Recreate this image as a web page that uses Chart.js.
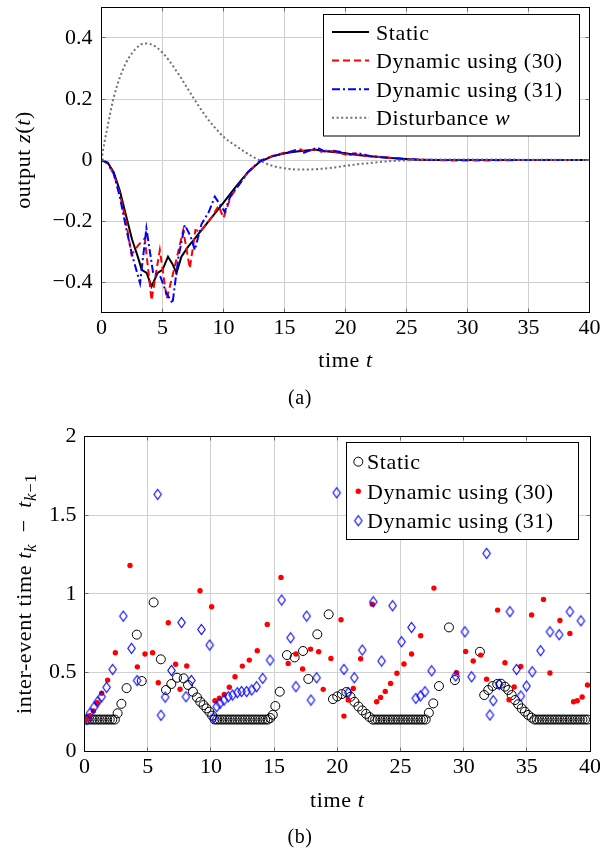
<!DOCTYPE html>
<html>
<head>
<meta charset="utf-8">
<title>Output z(t) and inter-event times</title>
<script src="https://cdn.jsdelivr.net/npm/chart.js@4.4.1/dist/chart.umd.min.js"></script>
<style>
  html, body { margin: 0; padding: 0; background: #fff; }
  canvas { display: block; }
</style>
</head>
<body>
<canvas id="outputCanvas" width="600" height="420"></canvas>
<canvas id="eventCanvas" width="600" height="433"></canvas>
<script>
// ---- (a) output z(t): each curve has its own time samples ----
const tStatic = [0, 0.5, 1, 1.5, 2, 2.5, 3, 3.3, 3.7, 4.1, 4.6, 5.0, 5.45, 5.8, 6.15, 6.55, 7.1, 7.5, 8.0, 8.5, 9.0, 10, 11, 12, 13, 14, 15, 16, 17, 17.5, 18, 19, 20, 21, 22, 23, 24, 25, 26, 28, 30, 35, 40];
const zStatic = [0, -0.008, -0.04, -0.1, -0.18, -0.26, -0.32, -0.36, -0.37, -0.415, -0.37, -0.36, -0.317, -0.34, -0.37, -0.317, -0.284, -0.265, -0.24, -0.215, -0.19, -0.14, -0.088, -0.04, -0.005, 0.012, 0.022, 0.028, 0.032, 0.034, 0.03, 0.026, 0.022, 0.016, 0.012, 0.009, 0.006, 0.003, 0.001, 0, 0, 0, 0];

const tDyn30 = [0, 0.5, 1, 1.5, 2, 2.46, 3.0, 3.55, 4.1, 4.78, 5.35, 6.0, 6.7, 7.24, 7.7, 8.1, 9.0, 9.6, 10.0, 10.6, 11.2, 12, 13, 14, 15, 15.6, 16.2, 16.7, 17.4, 18.0, 18.6, 19.3, 20.0, 20.6, 21.3, 22, 23, 24, 25, 26, 28, 30, 35, 40];
const zDyn30 = [0, -0.01, -0.045, -0.11, -0.2, -0.31, -0.28, -0.257, -0.46, -0.295, -0.455, -0.35, -0.23, -0.355, -0.23, -0.235, -0.19, -0.15, -0.19, -0.12, -0.085, -0.04, -0.003, 0.013, 0.024, 0.028, 0.037, 0.026, 0.035, 0.027, 0.032, 0.025, 0.018, 0.022, 0.015, 0.012, 0.01, 0.006, 0.002, 0.001, -0.001, -0.002, 0, 0];

const tDyn31 = [0, 0.5, 1, 1.5, 2, 2.5, 3.16, 3.68, 4.23, 4.8, 5.33, 5.82, 6.3, 6.83, 7.3, 7.65, 8.2, 8.8, 9.29, 10.1, 10.6, 11.2, 12, 13, 14, 15, 16, 16.6, 17.1, 17.7, 18.3, 19, 19.8, 20.4, 21, 22, 23, 24, 25, 26, 28, 30, 35, 40];
const zDyn31 = [0, -0.01, -0.045, -0.12, -0.22, -0.31, -0.404, -0.224, -0.37, -0.38, -0.437, -0.47, -0.32, -0.213, -0.25, -0.295, -0.21, -0.17, -0.12, -0.17, -0.115, -0.085, -0.04, -0.003, 0.012, 0.022, 0.033, 0.024, 0.032, 0.04, 0.028, 0.03, 0.025, 0.017, 0.023, 0.013, 0.009, 0.006, 0.003, 0.001, 0, 0, 0, 0];

const tDist = [0, 0.25, 0.5, 0.75, 1, 1.5, 2, 2.5, 3, 3.5, 4, 4.5, 5, 5.5, 6, 6.5, 7, 7.5, 8, 8.5, 9, 9.5, 10, 10.5, 11, 11.5, 12, 12.5, 13, 14, 15, 16, 17, 18, 19, 20, 21, 22, 23, 24, 25, 26, 28, 30, 35, 40];
const wDist = [0, 0.06, 0.11, 0.16, 0.205, 0.27, 0.318, 0.35, 0.372, 0.382, 0.38, 0.37, 0.352, 0.328, 0.3, 0.27, 0.238, 0.206, 0.175, 0.146, 0.12, 0.097, 0.076, 0.06, 0.047, 0.033, 0.02, 0.009, -0.002, -0.019, -0.027, -0.031, -0.031, -0.029, -0.025, -0.019, -0.014, -0.01, -0.006, -0.003, -0.001, 0.001, 0.002, 0.002, 0.001, 0];

// ---- (b) inter-event times t_k - t_{k-1}, plotted at the event time t_k ----
const staticTimes = [
  0.2, 0.4, 0.6, 0.8, 1.0, 1.2, 1.4, 1.6, 1.8, 2.0, 2.2, 2.4,
  2.62, 2.92, 3.33, 4.14, 4.53, 5.47, 6.04, 6.45, 6.87, 7.32, 7.85, 8.19, 8.58, 8.9, 9.16, 9.42, 9.65, 9.88, 10.1,
  10.3, 10.5, 10.7, 10.9, 11.1, 11.3, 11.5, 11.7, 11.9, 12.1, 12.3, 12.5, 12.7, 12.9, 13.1, 13.3, 13.5, 13.7, 13.9, 14.1, 14.3, 14.5,
  14.7, 14.9, 15.1, 15.45, 16.02, 16.63, 17.29, 17.71, 18.42, 19.32, 19.66, 20.0, 20.36, 20.72, 21.05, 21.36, 21.68, 21.98, 22.28, 22.55, 22.8,
  23.0, 23.2, 23.4, 23.6, 23.8, 24.0, 24.2, 24.4, 24.6, 24.8, 25.0, 25.2, 25.4, 25.6, 25.8, 26.0, 26.2, 26.4, 26.6, 26.8, 27.0,
  27.25, 27.6, 28.05, 28.84, 29.31, 31.29, 31.63, 31.95, 32.29, 32.66, 32.95, 33.27, 33.53, 33.8, 34.06, 34.32, 34.59, 34.85, 35.11, 35.38,
  35.6, 35.8, 36.0, 36.2, 36.4, 36.6, 36.8, 37.0, 37.2, 37.4, 37.6, 37.8, 38.0, 38.2, 38.4, 38.6, 38.8, 39.0, 39.2, 39.4, 39.6, 39.8
];
const staticGaps = [
  0.2, 0.2, 0.2, 0.2, 0.2, 0.2, 0.2, 0.2, 0.2, 0.2, 0.2, 0.2,
  0.24, 0.3, 0.4, 0.74, 0.445, 0.945, 0.583, 0.388, 0.426, 0.466, 0.462, 0.42, 0.377, 0.341, 0.313, 0.292, 0.271, 0.25, 0.225,
  0.2, 0.2, 0.2, 0.2, 0.2, 0.2, 0.2, 0.2, 0.2, 0.2, 0.2, 0.2, 0.2, 0.2, 0.2, 0.2, 0.2, 0.2, 0.2, 0.2, 0.2, 0.2,
  0.21, 0.23, 0.286, 0.377, 0.61, 0.595, 0.636, 0.458, 0.742, 0.869, 0.33, 0.347, 0.362, 0.375, 0.345, 0.313, 0.283, 0.258, 0.236, 0.216, 0.2,
  0.2, 0.2, 0.2, 0.2, 0.2, 0.2, 0.2, 0.2, 0.2, 0.2, 0.2, 0.2, 0.2, 0.2, 0.2, 0.2, 0.2, 0.2, 0.2, 0.2, 0.2,
  0.243, 0.303, 0.413, 0.786, 0.451, 0.631, 0.356, 0.388, 0.413, 0.426, 0.428, 0.409, 0.388, 0.356, 0.324, 0.297, 0.271, 0.25, 0.229, 0.212,
  0.2, 0.2, 0.2, 0.2, 0.2, 0.2, 0.2, 0.2, 0.2, 0.2, 0.2, 0.2, 0.2, 0.2, 0.2, 0.2, 0.2, 0.2, 0.2, 0.2, 0.2, 0.2
];

const dyn30Times = [0.17, 0.43, 0.7, 1.01, 1.36, 1.83, 2.44, 3.6, 4.18, 4.79, 5.39, 5.84, 6.63, 7.21, 7.56, 8.09, 9.14, 10.06, 10.32, 10.67, 11.06, 11.46, 11.91, 12.49, 13.04, 13.67, 14.46, 15.55, 16.12, 16.73, 17.26, 17.89, 18.53, 18.89, 19.5, 20.3, 20.53, 20.87, 21.27, 21.85, 22.77, 23.12, 23.43, 23.8, 24.22, 24.72, 25.28, 25.88, 26.6, 27.65, 29.45, 30.16, 30.76, 31.35, 31.82, 32.69, 33.27, 33.6, 34.0, 34.52, 35.38, 36.32, 36.83, 37.62, 38.41, 38.7, 38.99, 39.38, 39.8];
const dyn30Gaps = [0.2, 0.225, 0.254, 0.307, 0.367, 0.451, 0.625, 1.18, 0.535, 0.617, 0.625, 0.434, 0.816, 0.552, 0.393, 0.541, 1.019, 0.917, 0.32, 0.335, 0.36, 0.405, 0.472, 0.54, 0.578, 0.638, 0.805, 1.104, 0.557, 0.617, 0.521, 0.648, 0.631, 0.392, 0.589, 0.835, 0.222, 0.324, 0.398, 0.587, 0.934, 0.313, 0.341, 0.379, 0.43, 0.494, 0.553, 0.617, 0.733, 1.036, 0.498, 0.633, 0.572, 0.61, 0.457, 0.896, 0.561, 0.326, 0.407, 0.538, 0.865, 0.964, 0.496, 0.83, 0.748, 0.313, 0.32, 0.343, 0.42];

const dyn31Times = [0.17, 0.43, 0.75, 1.04, 1.36, 1.75, 2.23, 3.07, 3.72, 4.16, 5.79, 6.05, 6.38, 6.88, 7.68, 8.03, 8.46, 9.25, 9.91, 10.19, 10.46, 10.72, 11.04, 11.38, 11.72, 12.09, 12.43, 12.83, 13.23, 13.62, 14.1, 14.68, 15.6, 16.31, 16.73, 17.58, 17.92, 18.37, 19.96, 20.53, 20.87, 21.35, 21.98, 22.85, 23.51, 24.38, 25.09, 25.88, 26.22, 26.58, 26.94, 27.47, 29.37, 30.1, 30.63, 31.82, 32.08, 32.34, 32.82, 33.66, 34.19, 34.53, 34.98, 35.43, 36.09, 36.83, 37.56, 38.41, 39.28];
const dyn31Gaps = [0.2, 0.24, 0.278, 0.313, 0.345, 0.405, 0.519, 0.858, 0.653, 0.448, 1.632, 0.227, 0.343, 0.512, 0.817, 0.345, 0.449, 0.773, 0.674, 0.21, 0.282, 0.303, 0.324, 0.345, 0.356, 0.371, 0.378, 0.378, 0.388, 0.409, 0.462, 0.578, 0.96, 0.72, 0.409, 0.858, 0.324, 0.466, 1.642, 0.519, 0.371, 0.466, 0.642, 0.949, 0.572, 0.924, 0.695, 0.786, 0.335, 0.35, 0.377, 0.51, 0.477, 0.758, 0.472, 1.257, 0.229, 0.32, 0.424, 0.886, 0.519, 0.35, 0.413, 0.504, 0.638, 0.758, 0.74, 0.886, 0.828];

// ---- ticks ----
const timeTicks = [0, 5, 10, 15, 20, 25, 30, 35, 40];
const outputTicks = [-0.4, -0.2, 0, 0.2, 0.4];
const gapTicks = [0, 0.5, 1, 1.5, 2];

// ---- text (parts: [text, flags], i = italic, s = subscript) ----
const outputLegend = [[['Static']], [['Dynamic using (30)']], [['Dynamic using (31)']], [['Disturbance '], ['w', 'i']]];
const eventLegend = [[['Static']], [['Dynamic using (30)']], [['Dynamic using (31)']]];
const timeTitle = [['time '], ['t', 'i']];
const outputTitle = [['output '], ['z', 'i'], ['('], ['t', 'i'], [')']];
const gapTitle = [['inter-event time '], ['t', 'i'], ['k', 'is'], ['\u2002−\u2002'], ['t', 'i'], ['k', 'is'], ['−1', 's']];

const SERIF = "'Liberation Serif', 'Times New Roman', serif";
const TXT = 22;

function pts(xs, ys) {
  return xs.map((x, i) => ({ x: x, y: ys[i] }));
}

function partFont(p, size) {
  const f = p[1] || '';
  const s = f.includes('s') ? Math.round(size * 0.75) : size;
  return (f.includes('i') ? 'italic ' : '') + s + 'px ' + SERIF;
}

function drawRich(ctx, parts, x, y, size, align) {
  ctx.save();
  ctx.textAlign = 'left';
  ctx.textBaseline = 'alphabetic';
  ctx.fillStyle = '#000';
  if ('letterSpacing' in ctx) ctx.letterSpacing = '0.6px';
  let w = 0;
  parts.forEach(p => { ctx.font = partFont(p, size); w += ctx.measureText(p[0]).width; });
  let cx = align === 'center' ? x - w / 2 : x;
  parts.forEach(p => {
    ctx.font = partFont(p, size);
    const dy = (p[1] || '').includes('s') ? size * 0.22 : 0;
    ctx.fillText(p[0], cx, y + dy);
    cx += ctx.measureText(p[0]).width;
  });
  ctx.restore();
}

function diamondMark() {
  const c = document.createElement('canvas');
  c.width = 11;
  c.height = 13;
  const g = c.getContext('2d');
  g.strokeStyle = '#0000ff';
  g.lineWidth = 1.1;
  g.beginPath();
  g.moveTo(5.5, 1.5); g.lineTo(9.2, 6.5); g.lineTo(5.5, 11.5); g.lineTo(1.8, 6.5);
  g.closePath();
  g.stroke();
  return c;
}

function drawMark(ctx, ds, x, y) {
  if (typeof ds.pointStyle === 'object') {
    ctx.drawImage(ds.pointStyle, x - ds.pointStyle.width / 2, y - ds.pointStyle.height / 2);
    return;
  }
  ctx.beginPath();
  ctx.arc(x, y, ds.pointRadius, 0, Math.PI * 2);
  if (ds.pointBackgroundColor !== 'transparent') { ctx.fillStyle = ds.pointBackgroundColor; ctx.fill(); }
  if (ds.pointBorderWidth) { ctx.strokeStyle = ds.pointBorderColor; ctx.lineWidth = ds.pointBorderWidth; ctx.stroke(); }
}

function drawSample(ctx, ds, x0, x1, y) {
  ctx.save();
  if (ds.showLine === false) {
    drawMark(ctx, ds, (x0 + x1) / 2, y);
  } else {
    ctx.strokeStyle = ds.borderColor;
    ctx.lineWidth = ds.borderWidth;
    ctx.setLineDash(ds.borderDash || []);
    ctx.beginPath();
    ctx.moveTo(x0, y);
    ctx.lineTo(x1, y);
    ctx.stroke();
  }
  ctx.restore();
}

// frame, inward ticks, axis titles, legend and caption drawn over the chart
const paperPlugin = {
  id: 'paper',
  afterDraw(chart, args, o) {
    const ctx = chart.ctx;
    const a = chart.chartArea;
    const sx = chart.scales.x, sy = chart.scales.y;
    const L = Math.floor(a.left) + 0.5, R = Math.floor(a.right) + 0.5;
    const T = Math.floor(a.top) + 0.5, B = Math.floor(a.bottom) + 0.5;
    ctx.save();
    ctx.strokeStyle = '#6b6b6b';
    ctx.lineWidth = 1;
    ctx.beginPath();
    sx.ticks.forEach(t => {
      const p = Math.floor(sx.getPixelForValue(t.value)) + 0.5;
      ctx.moveTo(p, B); ctx.lineTo(p, B - 4);
      ctx.moveTo(p, T); ctx.lineTo(p, T + 4);
    });
    sy.ticks.forEach(t => {
      const p = Math.floor(sy.getPixelForValue(t.value)) + 0.5;
      ctx.moveTo(L, p); ctx.lineTo(L + 4, p);
      ctx.moveTo(R, p); ctx.lineTo(R - 4, p);
    });
    ctx.stroke();
    ctx.strokeStyle = '#000';
    ctx.strokeRect(L, T, R - L, B - T);

    // axis titles
    drawRich(ctx, timeTitle, (a.left + a.right) / 2, o.xTitleY, TXT, 'center');
    ctx.save();
    ctx.translate(o.yTitleX, (a.top + a.bottom) / 2);
    ctx.rotate(-Math.PI / 2);
    drawRich(ctx, o.yTitle, 0, 0, TXT, 'center');
    ctx.restore();

    // legend
    const lg = o.legend;
    ctx.fillStyle = '#fff';
    ctx.fillRect(lg.left, lg.top, lg.width, lg.height);
    ctx.strokeStyle = '#000';
    ctx.lineWidth = 1;
    ctx.strokeRect(lg.left, lg.top, lg.width, lg.height);
    lg.names.forEach((parts, i) => {
      const y = lg.top + lg.firstRow + i * lg.rowStep;
      drawSample(ctx, chart.data.datasets[i], lg.sampleFrom, lg.sampleTo, y);
      drawRich(ctx, parts, lg.textX, y + 7.5, TXT, 'left');
    });

    // caption
    drawRich(ctx, [[o.caption]], 300, o.captionY, 20, 'center');
    ctx.restore();
  }
};

function fixedTicks(list) {
  return scale => { scale.ticks = list.map(v => ({ value: v })); };
}

const tickFont = { family: SERIF, size: TXT };

new Chart(document.getElementById('outputCanvas'), {
  type: 'line',
  data: {
    datasets: [
      { label: 'Static', data: pts(tStatic, zStatic), borderColor: '#000000', borderWidth: 2, order: 4 },
      { label: 'Dynamic using (30)', data: pts(tDyn30, zDyn30), borderColor: '#ff0000', borderWidth: 2, borderDash: [7, 4], order: 3 },
      { label: 'Dynamic using (31)', data: pts(tDyn31, zDyn31), borderColor: '#0000ff', borderWidth: 2, borderDash: [8, 3, 2, 3], order: 2 },
      { label: 'Disturbance w', data: pts(tDist, wDist), borderColor: '#707070', borderWidth: 2, borderDash: [2, 2.6], cubicInterpolationMode: 'monotone', order: 1 }
    ]
  },
  options: {
    responsive: false,
    animation: false,
    events: [],
    elements: { point: { radius: 0 }, line: { tension: 0, fill: false } },
    layout: { padding: { left: 0, right: 10.5, top: 7.5, bottom: 0 } },
    plugins: {
      legend: { display: false },
      tooltip: { enabled: false },
      paper: {
        xTitleY: 366.5,
        yTitleX: 29.5,
        yTitle: outputTitle,
        caption: '(a)',
        captionY: 404,
        legend: { left: 323.5, top: 14.5, width: 256, height: 121.5, firstRow: 17.5, rowStep: 28.6, sampleFrom: 332, sampleTo: 369, textX: 376, names: outputLegend }
      }
    },
    scales: {
      x: {
        type: 'linear', min: 0, max: 40,
        afterBuildTicks: fixedTicks(timeTicks),
        afterFit: s => { s.height = 107.5; s.paddingLeft = 0; s.paddingRight = 0; },
        grid: { color: '#d0d0d0', drawTicks: false },
        border: { display: false },
        ticks: { padding: 3, font: tickFont, color: '#000', maxRotation: 0, autoSkip: false }
      },
      y: {
        type: 'linear', min: -0.5, max: 0.5,
        afterBuildTicks: fixedTicks(outputTicks),
        afterFit: s => { s.width = 101.5; s.paddingTop = 0; s.paddingBottom = 0; },
        grid: { color: '#d0d0d0', drawTicks: false },
        border: { display: false },
        ticks: {
          padding: 9, font: tickFont, color: '#000', autoSkip: false,
          callback: v => { const r = Math.round(v * 10) / 10; return r < 0 ? '−' + (-r) : String(r); }
        }
      }
    }
  },
  plugins: [paperPlugin]
});

new Chart(document.getElementById('eventCanvas'), {
  type: 'scatter',
  data: {
    datasets: [
      { label: 'Static', data: pts(staticTimes, staticGaps), showLine: false, pointStyle: 'circle', pointRadius: 4.5, pointBorderWidth: 1, pointBorderColor: '#000000', pointBackgroundColor: 'transparent', order: 3 },
      { label: 'Dynamic using (30)', data: pts(dyn30Times, dyn30Gaps), showLine: false, pointStyle: 'circle', pointRadius: 2.7, pointBorderWidth: 0, pointBorderColor: '#ff0000', pointBackgroundColor: '#ff0000', order: 2 },
      { label: 'Dynamic using (31)', data: pts(dyn31Times, dyn31Gaps), showLine: false, pointStyle: diamondMark(), pointRadius: 4.5, order: 1 }
    ]
  },
  options: {
    responsive: false,
    animation: false,
    events: [],
    layout: { padding: { left: 0, right: 10, top: 16.5, bottom: 0 } },
    plugins: {
      legend: { display: false },
      tooltip: { enabled: false },
      paper: {
        xTitleY: 386.5,
        yTitleX: 31,
        yTitle: gapTitle,
        caption: '(b)',
        captionY: 423,
        legend: { left: 346.5, top: 22.5, width: 232, height: 97, firstRow: 19.2, rowStep: 29.5, sampleFrom: 358.3, sampleTo: 358.3, textX: 367, names: eventLegend }
      }
    },
    scales: {
      x: {
        type: 'linear', min: 0, max: 40,
        afterBuildTicks: fixedTicks(timeTicks),
        afterFit: s => { s.height = 102; s.paddingLeft = 0; s.paddingRight = 0; },
        grid: { color: '#d0d0d0', drawTicks: false },
        border: { display: false },
        ticks: { padding: 3, font: tickFont, color: '#000', maxRotation: 0, autoSkip: false }
      },
      y: {
        type: 'linear', min: 0, max: 2,
        afterBuildTicks: fixedTicks(gapTicks),
        afterFit: s => { s.width = 84.5; s.paddingTop = 0; s.paddingBottom = 0; },
        grid: { color: '#d0d0d0', drawTicks: false },
        border: { display: false },
        ticks: { padding: 8, font: tickFont, color: '#000', autoSkip: false, callback: v => String(v) }
      }
    }
  },
  plugins: [paperPlugin]
});
</script>
</body>
</html>
